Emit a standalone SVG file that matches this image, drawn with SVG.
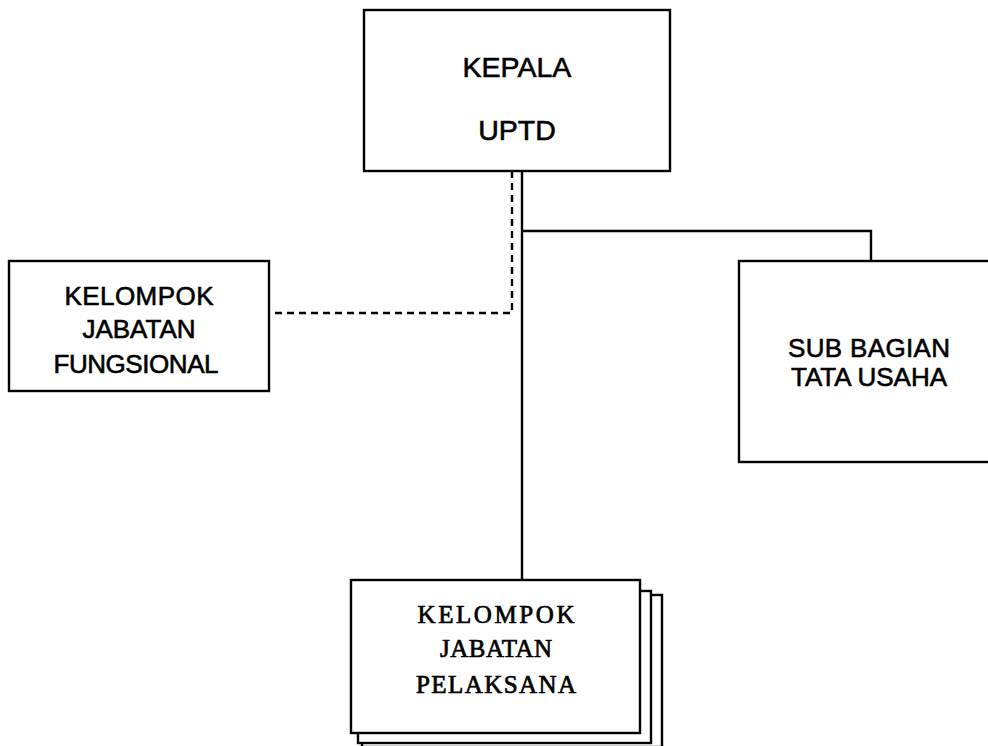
<svg xmlns="http://www.w3.org/2000/svg" width="988" height="746" viewBox="0 0 988 746">
<style>
.box{fill:#fff;stroke:#000;stroke-width:2.4}
.t{font-family:"Liberation Sans",Arial,sans-serif;font-size:26px;fill:#000;stroke:#000;stroke-width:0.6;text-anchor:middle}
.k{font-size:28.5px}
.s{font-family:"Liberation Serif","Times New Roman",serif;font-size:25px;fill:#000;stroke:#000;stroke-width:0.7;text-anchor:middle}
.ln{fill:none;stroke:#000;stroke-width:2.4}
.dash{fill:none;stroke:#000;stroke-width:2.4;stroke-dasharray:7,5}
</style>
<rect width="988" height="746" fill="#fff"/>
<g id="connectors">
<path class="ln" d="M522,171 V580"/>
<path class="ln" d="M522,231 H871 V261"/>
<path class="dash" d="M512,171 V313 H269"/>
</g>
<g id="kepala">
<rect class="box" x="364" y="10" width="306" height="161"/>
<text class="t k" x="517" y="77">KEPALA</text>
<text class="t k" x="517" y="140">UPTD</text>
</g>
<g id="fungsional">
<rect class="box" x="9" y="261" width="260" height="130"/>
<text class="t" x="139" y="305" textLength="149">KELOMPOK</text>
<text class="t" x="139" y="338">JABATAN</text>
<text class="t" x="136" y="373" textLength="165">FUNGSIONAL</text>
</g>
<g id="subbagian">
<rect class="box" x="739" y="261" width="262" height="201"/>
<text class="t" x="869" y="357" textLength="162">SUB BAGIAN</text>
<text class="t" x="869" y="386">TATA USAHA</text>
</g>
<g id="pelaksana">
<rect class="box" x="362" y="595" width="300" height="152"/>
<rect class="box" x="358" y="591" width="293" height="152"/>
<rect class="box" x="351" y="580" width="289" height="153"/>
<text class="s" x="496" y="623" textLength="157">KELOMPOK</text>
<text class="s" x="496" y="657" textLength="112">JABATAN</text>
<text class="s" x="496" y="693" textLength="160">PELAKSANA</text>
</g>
</svg>
